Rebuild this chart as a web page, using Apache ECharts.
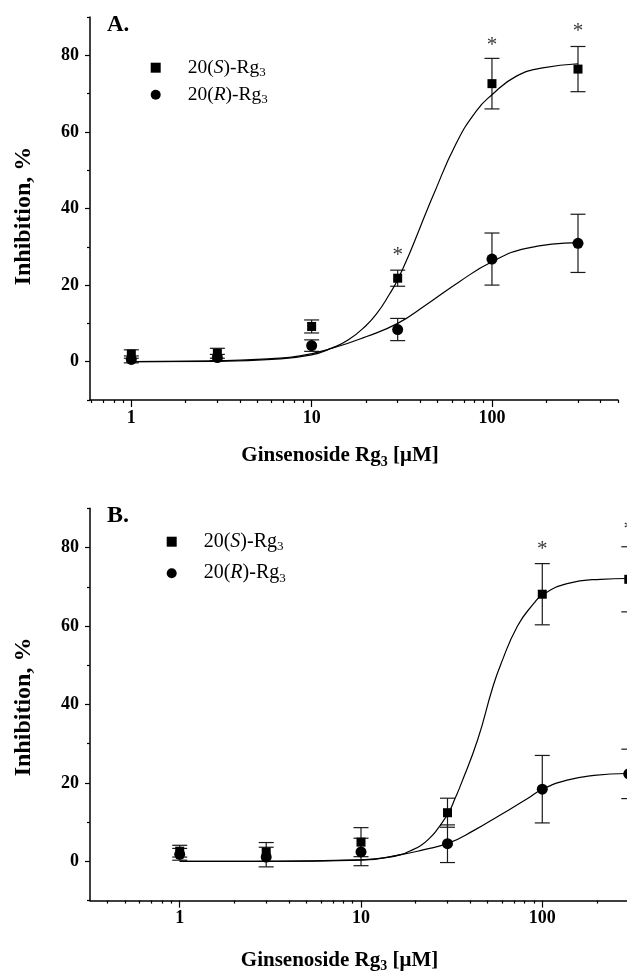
<!DOCTYPE html>
<html lang="en">
<head>
    <meta charset="UTF-8">
    <title>Ginsenoside Rg3 inhibition</title>
    <script src="https://cdn.jsdelivr.net/npm/echarts@6/dist/echarts.min.js"></script>
    <style>
        html, body { margin: 0; padding: 0; background: #fff; }
        #main { width: 627px; height: 972px; }
    </style>
</head>
<body>
<div id="main"></div>
<script>
    const serif = 'Liberation Serif';

    // concentrations, uM
    const conc = [1, 3, 10, 30, 100, 300];

    // panel A: means and error (+/-)
    const sMeanA = [2.0, 2.2, 9.2, 21.8, 72.6, 76.4];
    const sErrA = [1.1, 1.3, 1.7, 2.1, 6.6, 5.9];
    const rMeanA = [0.6, 1.1, 4.2, 8.4, 26.8, 30.9];
    const rErrA = [0.9, 0.8, 1.5, 2.9, 6.8, 7.6];
    // fitted curves
    const fitXSA = [1, 3, 6, 10, 13, 16, 20, 23, 27, 30, 35, 43, 47, 63, 82, 100, 136, 191, 300];
    const fitSA = [0, 0.1, 0.6, 1.8, 3.6, 5.7, 9.4, 12.6, 17.6, 21.4, 28.4, 38.8, 43.2, 56.8, 65.5, 69.7, 74.5, 76.7, 77.8];
    const fitXRA = [1, 3, 6, 8.6, 13, 20, 30, 43, 66, 100, 155, 300];
    const fitRA = [0, 0.2, 0.8, 1.5, 3.5, 6.5, 10.0, 14.8, 20.9, 26.1, 29.6, 31.1];
    const starXA = [30, 100, 300];
    const starYA = [28.8, 83.7, 87.2];

    // panel B
    const sMeanB = [2.6, 2.4, 4.9, 12.4, 68.1, 71.9];
    const sErrB = [1.5, 2.4, 3.7, 3.7, 7.8, 8.3];
    const rMeanB = [1.8, 1.1, 2.4, 4.5, 18.4, 22.3];
    const rErrB = [1.5, 2.5, 3.5, 4.8, 8.6, 6.3];
    const fitXSB = [1, 3, 10, 14, 16.6, 18.5, 21.3, 24, 26.4, 28.5, 30.6, 33, 35.5, 44, 53, 59, 73, 90, 100, 137, 210, 300];
    const fitSB = [0, 0, 0.4, 1.0, 1.7, 2.6, 4.0, 6.0, 8.2, 10.4, 12.6, 16, 19.5, 31, 44, 50.2, 60, 65.8, 67.9, 70.8, 71.9, 72.1];
    const fitXRB = [1, 3, 10, 16.6, 22.3, 30.6, 42, 59, 83, 100, 137, 193, 300];
    const fitRB = [0, 0, 0.3, 1.7, 3.0, 4.7, 7.9, 11.9, 16.0, 18.4, 20.7, 21.9, 22.4];
    const starXB = [100, 300];
    const starYB = [80.6, 85.7];

    // ticks
    const majorX = [1, 10, 100];
    const minorX = [0.4, 0.5, 0.6, 0.7, 0.8, 0.9, 2, 3, 4, 5, 6, 7, 8, 9,
        20, 30, 40, 50, 60, 70, 80, 90, 200, 300, 400, 500];
    const majorY = [0, 20, 40, 60, 80];
    const minorY = [-10, 10, 30, 50, 70, 90];

    function zip(xs, ys) {
        return xs.map(function (x, i) { return [x, ys[i]]; });
    }

    const subRich = {
        sub: { fontSize: 14, fontFamily: serif, fontWeight: 'bold', padding: [13, 0, 0, 0], color: '#000' }
    };

    function xAxes(grid, min, max, nameGap, padRight) {
        return [{
            type: 'log', logBase: 10, gridIndex: grid, min: min, max: max, position: 'bottom',
            name: 'Ginsenoside Rg{sub|3} [μM]', nameLocation: 'middle', nameGap: nameGap,
            nameTextStyle: {
                fontFamily: serif, fontWeight: 'bold', fontSize: 21, color: '#000',
                padding: [0, padRight, 0, 0], rich: subRich
            },
            axisLine: { onZero: false, lineStyle: { color: '#000', width: 1.5 } },
            axisTick: { show: true, length: 7, customValues: majorX, lineStyle: { color: '#000', width: 1.2 } },
            axisLabel: { customValues: majorX, margin: 9, color: '#000', fontFamily: serif, fontWeight: 'bold', fontSize: 18 },
            splitLine: { show: false }
        }, {
            type: 'log', logBase: 10, gridIndex: grid, min: min, max: max, position: 'bottom',
            axisLine: { show: false, onZero: false },
            axisLabel: { show: false },
            axisTick: { show: true, length: 3, customValues: minorX, lineStyle: { color: '#000', width: 1.2 } },
            splitLine: { show: false }
        }];
    }

    function yAxes(grid, nameGap, padRight) {
        return [{
            type: 'value', gridIndex: grid, min: -10, max: 90, position: 'left',
            name: 'Inhibition, %', nameLocation: 'middle', nameGap: nameGap, nameRotate: 90,
            nameTextStyle: { fontFamily: serif, fontWeight: 'bold', fontSize: 24, color: '#000', padding: [0, padRight, 0, 0] },
            axisLine: { show: true, onZero: false, lineStyle: { color: '#000', width: 1.5 } },
            axisTick: { show: true, length: 5, customValues: majorY, lineStyle: { color: '#000', width: 1.2 } },
            axisLabel: { customValues: majorY, margin: 11, color: '#000', fontFamily: serif, fontWeight: 'bold', fontSize: 18 },
            splitLine: { show: false }
        }, {
            type: 'value', gridIndex: grid, min: -10, max: 90, position: 'left',
            axisLine: { show: false, onZero: false },
            axisLabel: { show: false },
            axisTick: { show: true, length: 3, customValues: minorY, lineStyle: { color: '#000', width: 1.2 } },
            splitLine: { show: false }
        }];
    }

    function errorBars(xi, yi, means, errs) {
        return {
            type: 'custom', xAxisIndex: xi, yAxisIndex: yi, silent: true, z: 1,
            data: conc.map(function (x, i) { return [x, means[i], errs[i]]; }),
            encode: { x: 0, y: 1 },
            renderItem: function (params, api) {
                const x = api.value(0), m = api.value(1), e = api.value(2);
                const top = api.coord([x, m + e]);
                const bot = api.coord([x, m - e]);
                const w = 7.5;
                const style = { stroke: '#1a1a1a', lineWidth: 1.2 };
                return {
                    type: 'group', children: [
                        { type: 'line', shape: { x1: top[0], y1: top[1], x2: bot[0], y2: bot[1] }, style: style },
                        { type: 'line', shape: { x1: top[0] - w, y1: top[1], x2: top[0] + w, y2: top[1] }, style: style },
                        { type: 'line', shape: { x1: bot[0] - w, y1: bot[1], x2: bot[0] + w, y2: bot[1] }, style: style }
                    ]
                };
            }
        };
    }

    function fitLine(xi, yi, xs, ys) {
        return {
            type: 'line', xAxisIndex: xi, yAxisIndex: yi, silent: true, z: 2,
            data: zip(xs, ys), symbol: 'none', smooth: 0.5,
            lineStyle: { color: '#000', width: 1.2 }
        };
    }

    function points(name, xi, yi, ys, symbol, size) {
        return {
            name: name, type: 'scatter', xAxisIndex: xi, yAxisIndex: yi, z: 3,
            symbol: symbol, symbolSize: size, itemStyle: { color: '#000', opacity: 1 },
            data: zip(conc, ys)
        };
    }

    function stars(xi, yi, xs, ys) {
        return {
            type: 'scatter', xAxisIndex: xi, yAxisIndex: yi, silent: true, z: 3,
            symbolSize: 0.1, itemStyle: { color: 'transparent' },
            label: { show: true, formatter: '*', position: 'inside', offset: [0, 4], fontFamily: serif, fontSize: 21, color: '#000' },
            data: zip(xs, ys)
        };
    }

    function legend(left, top, gap, fontSize) {
        return {
            orient: 'vertical', left: left, top: top, padding: 0, itemGap: gap,
            itemWidth: 10, itemHeight: 10, selectedMode: false,
            itemStyle: { opacity: 1 },
            data: [{ name: '20(S)-Rg3', icon: 'rect' }, { name: '20(R)-Rg3', icon: 'circle' }],
            formatter: function (name) {
                const c = name.charAt(3);
                return '20({i|' + c + '})-Rg{sub|3}';
            },
            textStyle: {
                fontFamily: serif, fontSize: fontSize, color: '#000', lineHeight: 20,
                padding: [0, 0, 0, 22],
                rich: {
                    i: { fontFamily: serif, fontSize: fontSize, fontStyle: 'italic', color: '#000' },
                    sub: { fontFamily: serif, fontSize: 13, padding: [10, 0, 0, 0], color: '#000' }
                }
            }
        };
    }

    const myChart = echarts.init(document.getElementById('main'));

    const option = {
        animation: false,
        backgroundColor: '#fff',
        title: [
            { text: 'A.', left: 107, top: 14, padding: 0, textStyle: { fontFamily: serif, fontWeight: 'bold', fontSize: 23, color: '#000' } },
            { text: 'B.', left: 107, top: 504, padding: 0, textStyle: { fontFamily: serif, fontWeight: 'bold', fontSize: 24, color: '#000' } }
        ],
        legend: [
            legend(150.7, 57.7, 5.6, 19.5),
            legend(166.7, 531.7, 10, 20)
        ],
        grid: [
            { left: 90, top: 17, width: 528, height: 383, outerBoundsMode: 'none' },
            { left: 90, top: 508.3, width: 579, height: 392.3, outerBoundsMode: 'none' }
        ],
        xAxis: xAxes(0, 0.59, 500, 42, 28).concat(xAxes(1, 0.32, 500, 46, 80)),
        yAxis: yAxes(0, 54, 15).concat(yAxes(1, 54, 5)),
        series: [
            errorBars(0, 0, sMeanA, sErrA),
            errorBars(0, 0, rMeanA, rErrA),
            fitLine(0, 0, fitXSA, fitSA),
            fitLine(0, 0, fitXRA, fitRA),
            points('20(S)-Rg3', 0, 0, sMeanA, 'rect', 9),
            points('20(R)-Rg3', 0, 0, rMeanA, 'circle', 11),
            stars(0, 0, starXA, starYA),

            errorBars(2, 2, sMeanB, sErrB),
            errorBars(2, 2, rMeanB, rErrB),
            fitLine(2, 2, fitXSB, fitSB),
            fitLine(2, 2, fitXRB, fitRB),
            points('20(S)-Rg3', 2, 2, sMeanB, 'rect', 9),
            points('20(R)-Rg3', 2, 2, rMeanB, 'circle', 11),
            stars(2, 2, starXB, starYB)
        ]
    };
    myChart.setOption(option);
</script>
</body>
</html>
